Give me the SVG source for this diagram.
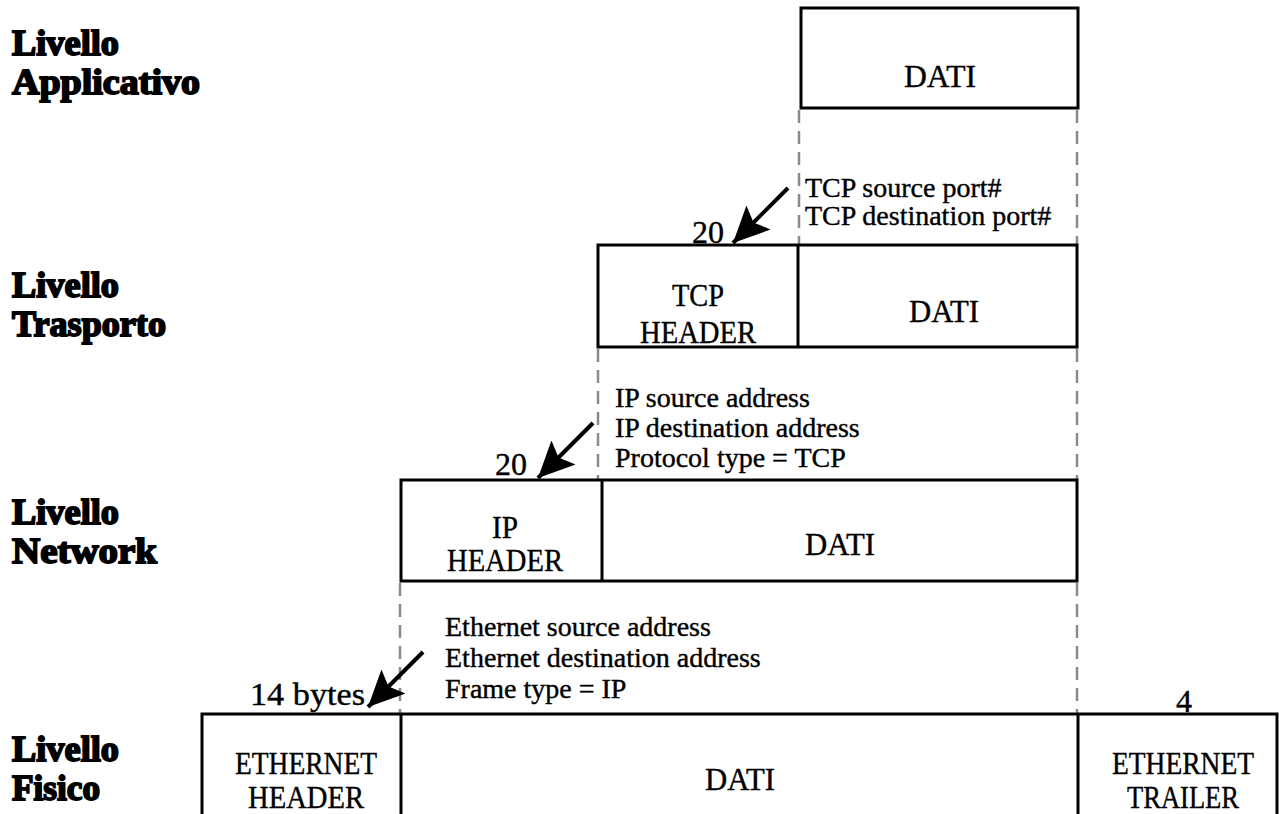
<svg xmlns="http://www.w3.org/2000/svg" width="1279" height="814" viewBox="0 0 1279 814">
  <style>
    .box { fill: #fff; stroke: #000; stroke-width: 3; }
    .div { stroke: #000; stroke-width: 3; }
    .guide { stroke: #8a8a8a; stroke-width: 2.5; stroke-dasharray: 13 8; fill: none; }
    .lvl { font-family: "Liberation Serif", "DejaVu Serif", serif; font-weight: bold; font-size: 35px; fill: #000; stroke: #000; stroke-width: 1.8; }
    .t { font-family: "Liberation Serif", "Times New Roman", serif; font-size: 32px; fill: #000; stroke: #000; stroke-width: 0.4; }
    .note { font-family: "Liberation Serif", "Times New Roman", serif; font-size: 28px; fill: #000; stroke: #000; stroke-width: 0.4; }
    .mid { text-anchor: middle; }
    .arrow { stroke: #000; stroke-width: 4; fill: none; }
  </style>
  <defs>
    <marker id="head" markerUnits="userSpaceOnUse" markerWidth="40" markerHeight="36" refX="36" refY="17" orient="auto" viewBox="0 0 40 36">
      <path d="M0,0 L36,17 L0,34 L7,17 z" fill="#000"/>
    </marker>
  </defs>

  <rect width="1279" height="814" fill="#fff"/>

  <!-- layer labels -->
  <g id="label-applicativo">
    <text class="lvl" x="12" y="55" textLength="107" lengthAdjust="spacingAndGlyphs">Livello</text>
    <text class="lvl" x="12" y="94" textLength="188" lengthAdjust="spacingAndGlyphs">Applicativo</text>
  </g>
  <g id="label-trasporto">
    <text class="lvl" x="12" y="297" textLength="107" lengthAdjust="spacingAndGlyphs">Livello</text>
    <text class="lvl" x="12" y="336" textLength="154" lengthAdjust="spacingAndGlyphs">Trasporto</text>
  </g>
  <g id="label-network">
    <text class="lvl" x="12" y="524" textLength="107" lengthAdjust="spacingAndGlyphs">Livello</text>
    <text class="lvl" x="12" y="563" textLength="145" lengthAdjust="spacingAndGlyphs">Network</text>
  </g>
  <g id="label-fisico">
    <text class="lvl" x="12" y="761" textLength="107" lengthAdjust="spacingAndGlyphs">Livello</text>
    <text class="lvl" x="12" y="800" textLength="88" lengthAdjust="spacingAndGlyphs">Fisico</text>
  </g>

  <!-- dashed guides and size arrows -->
  <g id="connectors">
    <line class="guide" x1="799" y1="110" x2="799" y2="245"/>
    <line class="guide" x1="1077" y1="110" x2="1077" y2="245"/>
    <line class="guide" x1="598" y1="349" x2="598" y2="480"/>
    <line class="guide" x1="1077" y1="349" x2="1077" y2="480"/>
    <line class="guide" x1="400" y1="583" x2="400" y2="714"/>
    <line class="guide" x1="1077" y1="583" x2="1077" y2="714"/>

    <line class="arrow" x1="788" y1="188" x2="733" y2="243" marker-end="url(#head)"/>
    <line class="arrow" x1="593" y1="423" x2="538" y2="478" marker-end="url(#head)"/>
    <line class="arrow" x1="423" y1="652" x2="368" y2="707" marker-end="url(#head)"/>
  </g>

  <!-- application layer -->
  <g id="app-data">
    <rect class="box" x="801" y="8" width="277" height="100"/>
    <text class="t mid" x="940" y="87" textLength="72" lengthAdjust="spacingAndGlyphs">DATI</text>
  </g>

  <!-- transport layer -->
  <g id="tcp-segment">
    <rect class="box" x="598" y="245" width="479" height="102"/>
    <line class="div" x1="798" y1="245" x2="798" y2="347"/>
    <text class="t mid" x="698" y="306" textLength="52" lengthAdjust="spacingAndGlyphs">TCP</text>
    <text class="t mid" x="698" y="343" textLength="116" lengthAdjust="spacingAndGlyphs">HEADER</text>
    <text class="t mid" x="944" y="322" textLength="70" lengthAdjust="spacingAndGlyphs">DATI</text>
  </g>
  <g id="tcp-notes">
    <text class="note" x="805" y="197">TCP source port#</text>
    <text class="note" x="805" y="225">TCP destination port#</text>
    <text class="t" x="692" y="243">20</text>
  </g>

  <!-- network layer -->
  <g id="ip-packet">
    <rect class="box" x="401" y="480" width="676" height="101"/>
    <line class="div" x1="602" y1="480" x2="602" y2="581"/>
    <text class="t mid" x="505" y="538" textLength="26" lengthAdjust="spacingAndGlyphs">IP</text>
    <text class="t mid" x="505" y="571" textLength="116" lengthAdjust="spacingAndGlyphs">HEADER</text>
    <text class="t mid" x="840" y="555" textLength="70" lengthAdjust="spacingAndGlyphs">DATI</text>
  </g>
  <g id="ip-notes">
    <text class="note" x="615" y="407">IP source address</text>
    <text class="note" x="615" y="437">IP destination address</text>
    <text class="note" x="615" y="467">Protocol type = TCP</text>
    <text class="t" x="495" y="475">20</text>
  </g>

  <!-- physical layer -->
  <g id="ethernet-frame">
    <rect class="box" x="202" y="714" width="1075" height="120"/>
    <line class="div" x1="401" y1="714" x2="401" y2="814"/>
    <line class="div" x1="1078" y1="714" x2="1078" y2="814"/>
    <text class="t mid" x="306" y="774" textLength="142" lengthAdjust="spacingAndGlyphs">ETHERNET</text>
    <text class="t mid" x="306" y="808" textLength="116" lengthAdjust="spacingAndGlyphs">HEADER</text>
    <text class="t mid" x="740" y="790" textLength="70" lengthAdjust="spacingAndGlyphs">DATI</text>
    <text class="t mid" x="1183" y="774" textLength="142" lengthAdjust="spacingAndGlyphs">ETHERNET</text>
    <text class="t mid" x="1183" y="808" textLength="112" lengthAdjust="spacingAndGlyphs">TRAILER</text>
  </g>
  <g id="ethernet-notes">
    <text class="note" x="445" y="636">Ethernet source address</text>
    <text class="note" x="445" y="667">Ethernet destination address</text>
    <text class="note" x="445" y="698">Frame type = IP</text>
    <text class="t" x="250" y="705" textLength="115" lengthAdjust="spacingAndGlyphs">14 bytes</text>
    <text class="t mid" x="1184" y="712">4</text>
  </g>
</svg>
